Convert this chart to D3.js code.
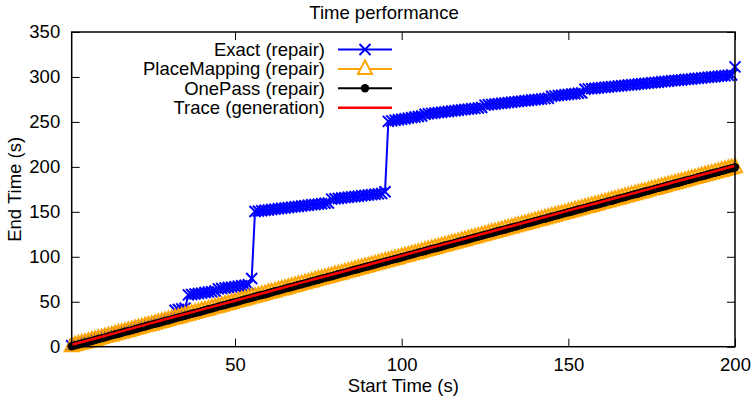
<!DOCTYPE html>
<html><head><meta charset="utf-8">
<script src="https://cdn.jsdelivr.net/npm/d3@7"></script>
<style>body{margin:0;background:#fff}svg{display:block}text{font-family:"Liberation Sans",Arial,sans-serif;fill:#000}</style>
</head><body><svg id="c" width="755" height="400"></svg>
<script>
const startTimes = [
1,2,3,4,5,6,7,8,9,10,11,12,13,14,15,16,17,18,19,20,
21,22,23,24,25,26,27,28,29,30,31,32,33,34,35,36,37,38,39,40,
41,42,43,44,45,46,47,48,49,50,51,52,53,54,55,56,57,58,59,60,
61,62,63,64,65,66,67,68,69,70,71,72,73,74,75,76,77,78,79,80,
81,82,83,84,85,86,87,88,89,90,91,92,93,94,95,96,97,98,99,100,
101,102,103,104,105,106,107,108,109,110,111,112,113,114,115,116,117,118,119,120,
121,122,123,124,125,126,127,128,129,130,131,132,133,134,135,136,137,138,139,140,
141,142,143,144,145,146,147,148,149,150,151,152,153,154,155,156,157,158,159,160,
161,162,163,164,165,166,167,168,169,170,171,172,173,174,175,176,177,178,179,180,
181,182,183,184,185,186,187,188,189,190,191,192,193,194,195,196,197,198,199,200];

const exactEnd = [
1.1,2.3,3.2,4.1,5.3,6.2,7.1,8.4,9.2,10.1,11.3,12.2,13.1,14.3,15.2,16.4,17.1,18.2,19.3,20.1,
21.2,22.4,23.1,24.3,25.2,26.1,27.3,28.2,29.1,30.4,31.2,
40.6,41.3,42.1,42.9,
57.6,58.1,58.7,59.2,59.6,60.3,60.8,61.2,61.9,
64.3,64.8,65.2,65.9,66.3,66.8,67.4,67.9,68.3,68.9,
75.8,
150.4,150.8,151.2,151.7,152.1,152.6,153.0,153.4,153.9,154.3,154.7,155.2,155.6,156.0,156.5,156.9,157.3,157.8,158.2,158.6,159.0,159.5,159.9,
164.1,164.5,164.9,165.3,165.8,166.2,166.6,167.0,167.4,167.9,168.3,168.7,169.1,169.5,170.0,170.4,
172.3,
250.6,251.2,251.8,252.4,253.0,253.6,254.2,254.8,255.4,256.0,256.6,
258.6,259.0,259.5,259.9,260.3,260.8,261.2,261.6,262.1,262.5,262.9,263.4,263.8,264.2,264.7,265.1,265.5,266.0,
268.7,269.1,269.5,269.9,270.3,270.7,271.1,271.5,271.9,272.3,272.7,273.1,273.5,273.9,274.3,274.7,275.1,275.5,275.9,276.3,
278.6,279.0,279.4,279.8,280.2,280.6,281.0,281.4,281.8,282.2,
286.3,286.7,287.0,287.4,287.7,288.1,288.5,288.8,289.2,289.5,
289.9,290.3,290.6,291.0,291.3,291.7,292.1,292.4,292.8,293.1,
293.5,293.9,294.2,294.6,294.9,295.3,295.7,296.0,296.4,296.7,
297.1,297.5,297.8,298.2,298.5,298.9,299.3,299.6,300.0,300.3,
300.7,301.1,301.4,301.8,302.1,
311.2];

const placeMappingEnd = [
0.6,1.5,2.7,3.6,4.5,5.6,6.7,7.5,8.6,9.6,10.7,11.6,12.5,13.6,14.7,15.5,16.6,17.6,18.5,19.7,
20.6,21.5,22.7,23.6,24.5,25.6,26.7,27.5,28.6,29.6,30.7,31.6,32.5,33.6,34.7,35.5,36.6,37.6,38.5,39.7,
40.6,41.5,42.7,43.6,44.5,45.6,46.7,47.5,48.6,49.6,50.7,51.6,52.5,53.6,54.7,55.5,56.6,57.6,58.5,59.7,
60.6,61.5,62.7,63.6,64.5,65.6,66.7,67.5,68.6,69.6,70.7,71.6,72.5,73.6,74.7,75.5,76.6,77.6,78.5,79.7,
80.6,81.5,82.7,83.6,84.5,85.6,86.7,87.5,88.6,89.6,90.7,91.6,92.5,93.6,94.7,95.5,96.6,97.6,98.5,99.7,
100.6,101.5,102.7,103.6,104.5,105.6,106.7,107.5,108.6,109.6,110.7,111.6,112.5,113.6,114.7,115.5,116.6,117.6,118.5,119.7,
120.6,121.5,122.7,123.6,124.5,125.6,126.7,127.5,128.6,129.6,130.7,131.6,132.5,133.6,134.7,135.5,136.6,137.6,138.5,139.7,
140.6,141.5,142.7,143.6,144.5,145.6,146.7,147.5,148.6,149.6,150.7,151.6,152.5,153.6,154.7,155.5,156.6,157.6,158.5,159.7,
160.6,161.5,162.7,163.6,164.5,165.6,166.7,167.5,168.6,169.6,170.7,171.6,172.5,173.6,174.7,175.5,176.6,177.6,178.5,179.7,
180.6,181.5,182.7,183.6,184.5,185.6,186.7,187.5,188.6,189.6,190.7,191.6,192.5,193.6,194.7,195.5,196.6,197.6,198.5,199.7];

const onePassEnd = [
0.5,1.6,2.4,3.5,4.6,5.5,6.4,7.5,8.6,9.5,10.4,11.5,12.6,13.5,14.4,15.5,16.6,17.5,18.4,19.5,
20.5,21.6,22.4,23.5,24.6,25.5,26.4,27.5,28.6,29.5,30.4,31.5,32.6,33.5,34.4,35.5,36.6,37.5,38.4,39.5,
40.5,41.6,42.4,43.5,44.6,45.5,46.4,47.5,48.6,49.5,50.4,51.5,52.6,53.5,54.4,55.5,56.6,57.5,58.4,59.5,
60.5,61.6,62.4,63.5,64.6,65.5,66.4,67.5,68.6,69.5,70.4,71.5,72.6,73.5,74.4,75.5,76.6,77.5,78.4,79.5,
80.5,81.6,82.4,83.5,84.6,85.5,86.4,87.5,88.6,89.5,90.4,91.5,92.6,93.5,94.4,95.5,96.6,97.5,98.4,99.5,
100.5,101.6,102.4,103.5,104.6,105.5,106.4,107.5,108.6,109.5,110.4,111.5,112.6,113.5,114.4,115.5,116.6,117.5,118.4,119.5,
120.5,121.6,122.4,123.5,124.6,125.5,126.4,127.5,128.6,129.5,130.4,131.5,132.6,133.5,134.4,135.5,136.6,137.5,138.4,139.5,
140.5,141.6,142.4,143.5,144.6,145.5,146.4,147.5,148.6,149.5,150.4,151.5,152.6,153.5,154.4,155.5,156.6,157.5,158.4,159.5,
160.5,161.6,162.4,163.5,164.6,165.5,166.4,167.5,168.6,169.5,170.4,171.5,172.6,173.5,174.4,175.5,176.6,177.5,178.4,179.5,
180.5,181.6,182.4,183.5,184.6,185.5,186.4,187.5,188.6,189.5,190.4,191.5,192.6,193.5,194.4,195.5,196.6,197.5,198.4,199.5];

const traceStart = [1,10,20,30,40,50,60,70,80,90,100,110,120,130,140,150,160,170,180,190,200];
const traceEnd = [2.2,11.1,21.2,31.3,41.2,51.1,61.2,71.3,81.2,91.1,101.2,111.3,121.2,131.1,141.2,151.3,161.2,171.1,181.2,191.3,201.2];

const seriesNames = ["Exact (repair)","PlaceMapping (repair)","OnePass (repair)","Trace (generation)"];
const seriesColors = ["#0000ff","#ffa500","#000000","#ff0000"];
const xTicks = [50,100,150,200];
const yTicks = [0,50,100,150,200,250,300,350];
const titleText = "Time performance";
const xLabel = "Start Time (s)";
const yLabel = "End Time (s)";

const svg = d3.select("#c");
const m = {l:71.7, r:735, t:32, b:346.7};
const FS = 18.5;
const x = d3.scaleLinear().domain([1,200]).range([m.l, m.r]);
const y = d3.scaleLinear().domain([0,350]).range([m.b, m.t]);

function styleAxis(g, showText){
  g.select(".domain").remove();
  g.selectAll(".tick line").attr("stroke","#000").attr("stroke-width",1);
  g.selectAll(".tick text").attr("font-size",FS).attr("font-family","Liberation Sans, Arial, sans-serif");
  if(!showText) g.selectAll(".tick text").remove();
}
svg.append("g").attr("transform",`translate(0,${m.b})`)
  .call(d3.axisBottom(x).tickValues(xTicks).tickSize(-8).tickPadding(11.5).tickFormat(d3.format("d")))
  .call(g=>styleAxis(g,true));
svg.append("g").attr("transform",`translate(0,${m.t})`)
  .call(d3.axisTop(x).tickValues(xTicks).tickSize(-8))
  .call(g=>styleAxis(g,false));
svg.append("g").attr("transform",`translate(${m.l},0)`)
  .call(d3.axisLeft(y).tickValues(yTicks).tickSize(-8).tickPadding(11.5).tickFormat(d3.format("d")))
  .call(g=>styleAxis(g,true));
svg.append("g").attr("transform",`translate(${m.r},0)`)
  .call(d3.axisRight(y).tickValues(yTicks).tickSize(-8))
  .call(g=>styleAxis(g,false));

const crossPath = "M-5.5,-5.5L5.5,5.5M-5.5,5.5L5.5,-5.5";
const triPath = "M0,-8.5L7,5L-7,5Z";

const line = d3.line().x(d=>x(d[0])).y(d=>y(d[1]));
const exactData = startTimes.map((s,i)=>[s,exactEnd[i]]);
const pmData = startTimes.map((s,i)=>[s,placeMappingEnd[i]]);
const opData = startTimes.map((s,i)=>[s,onePassEnd[i]]);
const trData = traceStart.map((s,i)=>[s,traceEnd[i]]);

// Exact
svg.append("path").datum(exactData).attr("d",line).attr("fill","none").attr("stroke",seriesColors[0]).attr("stroke-width",2);
svg.append("g").selectAll("path").data(exactData).join("path")
  .attr("transform",d=>`translate(${x(d[0])},${y(d[1])})`).attr("d",crossPath)
  .attr("stroke",seriesColors[0]).attr("stroke-width",2).attr("fill","none");
// PlaceMapping
svg.append("path").datum(pmData).attr("d",line).attr("fill","none").attr("stroke",seriesColors[1]).attr("stroke-width",2);
svg.append("g").selectAll("path").data(pmData).join("path")
  .attr("transform",d=>`translate(${x(d[0])},${y(d[1])})`).attr("d",triPath)
  .attr("stroke",seriesColors[1]).attr("stroke-width",2).attr("fill","none");
// OnePass
svg.append("path").datum(opData).attr("d",line).attr("fill","none").attr("stroke",seriesColors[2]).attr("stroke-width",2);
svg.append("g").selectAll("circle").data(opData).join("circle")
  .attr("cx",d=>x(d[0])).attr("cy",d=>y(d[1])).attr("r",4.2).attr("fill",seriesColors[2]);
// Trace
svg.append("path").datum(trData).attr("d",line).attr("fill","none").attr("stroke",seriesColors[3]).attr("stroke-width",2.5);

// border
svg.append("rect").attr("x",m.l).attr("y",m.t).attr("width",m.r-m.l).attr("height",m.b-m.t)
  .attr("fill","none").attr("stroke","#000").attr("stroke-width",1.5);

// legend
const lg = svg.append("g");
seriesNames.forEach((name,i)=>{
  const ly = 49.5 + i*19.4;
  lg.append("text").attr("x",325).attr("y",ly).attr("dy","0.35em").attr("text-anchor","end").attr("font-size",FS).text(name);
  lg.append("line").attr("x1",338).attr("x2",392).attr("y1",ly).attr("y2",ly).attr("stroke",seriesColors[i]).attr("stroke-width",i===3?2.5:2);
  if(i===0) lg.append("path").attr("transform",`translate(365,${ly})`).attr("d",crossPath).attr("stroke",seriesColors[0]).attr("stroke-width",2).attr("fill","none");
  if(i===1) lg.append("path").attr("transform",`translate(365,${ly})`).attr("d",triPath).attr("stroke",seriesColors[1]).attr("stroke-width",2).attr("fill","#fff");
  if(i===2) lg.append("circle").attr("cx",365).attr("cy",ly).attr("r",4.2).attr("fill",seriesColors[2]);
});

svg.append("text").attr("x",384).attr("y",13).attr("dy","0.35em").attr("text-anchor","middle").attr("font-size",FS).text(titleText);
svg.append("text").attr("x",(m.l+m.r)/2).attr("y",385.5).attr("dy","0.35em").attr("text-anchor","middle").attr("font-size",FS).text(xLabel);
svg.append("text").attr("transform",`translate(15,${(m.t+m.b)/2}) rotate(-90)`).attr("dy","0.35em").attr("text-anchor","middle").attr("font-size",FS).text(yLabel);
</script></body></html>
